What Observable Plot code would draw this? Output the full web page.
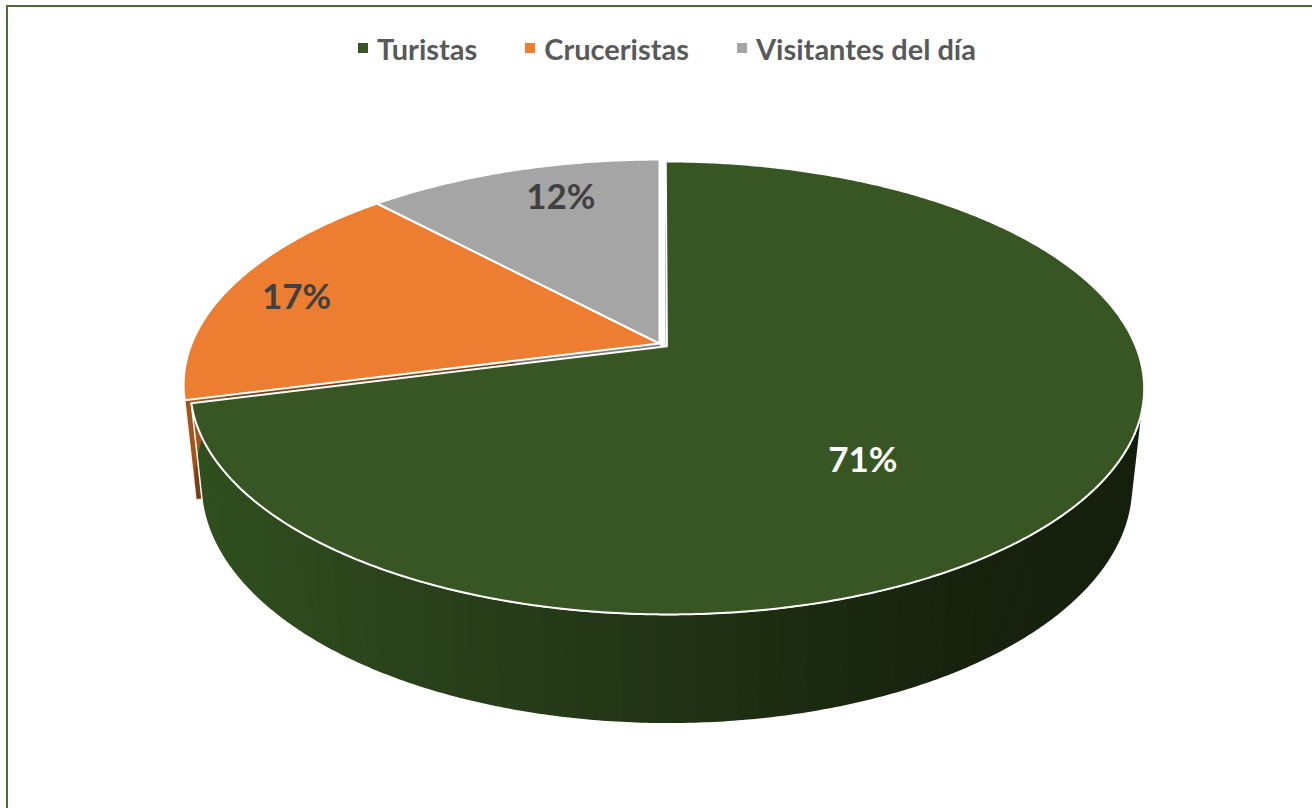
<!DOCTYPE html>
<html>
<head>
<meta charset="utf-8">
<script src="https://cdn.jsdelivr.net/npm/d3@7"></script>
<script src="https://cdn.jsdelivr.net/npm/@observablehq/plot@0.6"></script>
<style>
  html, body { margin: 0; padding: 0; background: #fff; }
  #page { position: relative; width: 1312px; height: 808px; overflow: hidden; font-family: Lato, "Open Sans", sans-serif; }
  #frame { position: absolute; left: 6px; top: 5px; width: 1320px; height: 820px; border-left: 2px solid #4b6c36; border-top: 2px solid #4b6c36; box-sizing: border-box; pointer-events: none; z-index: 5; }
  #legend { height: 88px; display: flex; justify-content: center; align-items: flex-start; padding-left: 22px; box-sizing: border-box; }
  #legend .item { display: flex; align-items: center; margin: 0 24px; margin-top: 29px; height: 38px; font-size: 29px; font-weight: bold; color: #595959; }
  #legend .sw { width: 10px; height: 10px; margin-right: 9px; }
  #chart svg { display: block; }
</style>
</head>
<body>
<div id="page">
  <div id="frame"></div>
  <div id="legend"></div>
  <div id="chart"></div>
</div>
<script>
// ---- data ----
const categories = ["Turistas", "Cruceristas", "Visitantes del día"];
const shares = [71, 17, 12];
const pctLabels = ["71%", "17%", "12%"];

// ---- styles ----
const FILL = ["#375623", "#ED7D31", "#A5A5A5"];
const CUT = ["#2a421a", "#7b3f16", "#7c7c7c"];
const LABEL_COLOR = ["#ffffff", "#404040", "#404040"];
const wallRamp = [
  d3.scaleLinear().domain([190, 350, 500, 800, 1000, 1150]).range(["#30501f", "#2c451c", "#273d19", "#1c2b11", "#17210d", "#15200c"]).clamp(true),
  d3.scaleLinear().domain([180, 700]).range(["#a4541d", "#6d360f"]).clamp(true),
  d3.scaleLinear().domain([180, 700]).range(["#8a8a8a", "#5a5a5a"]).clamp(true)
];

// ---- camera / layout ----
const deg = Math.PI / 180;
const PHI = 27.75 * deg, SN = Math.sin(PHI), CS = Math.cos(PHI);
const DIST = 4.81, THICK = 0.236, FOCAL = 2250, CX = 659, CY = 343, TOPH = 88;
const EXPLODE = [0.02, 0, 0];
const LABEL_POS = [{a: 141.5 * deg, r: 0.61}, {a: 285 * deg, r: 0.835}, {a: 342.5 * deg, r: 0.8}];

function project(X, Y, Z) {
  const zc = DIST + Z * CS - Y * SN;
  return [X / zc, (Y * CS + Z * SN) / zc];
}

const total = d3.sum(shares);
let acc = 0;
const slices = categories.map((c, i) => {
  const a0 = acc / total * 2 * Math.PI; acc += shares[i];
  const a1 = acc / total * 2 * Math.PI;
  const mid = (a0 + a1) / 2;
  return {c, i, a0, a1, mid, ox: EXPLODE[i] * Math.sin(mid), oz: EXPLODE[i] * Math.cos(mid)};
});
function pt(s, r, a, Y) { return project(s.ox + r * Math.sin(a), Y, s.oz + r * Math.cos(a)); }
const px = u => CX + FOCAL * u;

let pid = 0;
const cutPolys = [], wallPolys = [], outlinePolys = [], topPolys = [];
function add(arr, pts, fill, stroke) {
  const id = pid++;
  pts.forEach(([u, v]) => arr.push({id, u, v, fill, stroke}));
}
function arc(s, a0, a1, Y, step) {
  const n = Math.max(1, Math.ceil((a1 - a0) / step));
  return d3.range(n + 1).map(k => pt(s, 1, a0 + (a1 - a0) * k / n, Y));
}

// visible wall range (front side)
const VIS0 = 104 * deg, VIS1 = 256.5 * deg;

for (const s of slices) {
  // cut faces
  for (const a of [s.a0, s.a1]) {
    add(cutPolys, [pt(s, 0, a, 0), pt(s, 1, a, 0), pt(s, 1, a, -THICK), pt(s, 0, a, -THICK)], CUT[s.i], CUT[s.i]);
  }
  // wall strips (overlapping slightly to avoid seams)
  const n = Math.ceil((s.a1 - s.a0) / deg);
  for (let k = 0; k < n; k++) {
    const t0 = s.a0 + (s.a1 - s.a0) * k / n;
    const t1 = Math.min(s.a1, s.a0 + (s.a1 - s.a0) * (k + 1) / n + 0.8 * deg);
    const tm = s.a0 + (s.a1 - s.a0) * (k + 0.5) / n;
    const q = [...arc(s, t0, t1, 0, 0.5 * deg), ...arc(s, t0, t1, -THICK, 0.5 * deg).reverse()];
    const col = wallRamp[s.i](px(pt(s, 1, tm, 0)[0]));
    add(wallPolys, q, col, "none");
  }
  // wall outline (visible part)
  const v0 = Math.max(s.a0, VIS0), v1 = Math.min(s.a1, VIS1);
  if (v1 > v0) {
    const top = arc(s, v0, v1, 0, 0.5 * deg), bot = arc(s, v0, v1, -THICK, 0.5 * deg).reverse();
    add(outlinePolys, [...top, ...bot, top[0]], "none", "#ffffff");
  }
  // top face
  const topArc = arc(s, s.a0, s.a1, 0, 0.5 * deg);
  const c0 = pt(s, 0, 0, 0);
  add(topPolys, [c0, ...topArc, c0], FILL[s.i], "#ffffff");
}

const labelData = slices.map(s => {
  const lp = LABEL_POS[s.i];
  const [u, v] = pt(s, lp.r, lp.a ?? s.mid, 0);
  return {u, v, text: pctLabels[s.i], color: LABEL_COLOR[s.i]};
});

// ---- legend ----
const legend = d3.select("#legend");
categories.forEach((c, i) => {
  const it = legend.append("div").attr("class", "item");
  it.append("div").attr("class", "sw").style("background", FILL[i]);
  it.append("span").text(c);
});

// ---- plot ----
const W = 1312, Hh = 808 - TOPH;
const ext = 0.3;
const plot = Plot.plot({
  width: W, height: Hh,
  margin: 0,
  x: {type: "linear", domain: [-ext, ext], range: [CX - ext * FOCAL, CX + ext * FOCAL], axis: null},
  y: {type: "linear", domain: [-ext, ext], range: [CY - TOPH + ext * FOCAL, CY - TOPH - ext * FOCAL], axis: null},
  color: {type: "identity"},
  style: {background: "transparent", overflow: "visible"},
  marks: [
    Plot.line(cutPolys, {x: "u", y: "v", z: "id", fill: "fill", stroke: "stroke", strokeWidth: 0.8}),
    Plot.line(wallPolys, {x: "u", y: "v", z: "id", fill: "fill", stroke: "none"}),
    Plot.line(outlinePolys, {x: "u", y: "v", z: "id", fill: "none", stroke: "stroke", strokeWidth: 1.5}),
    Plot.line(topPolys, {x: "u", y: "v", z: "id", fill: "fill", stroke: "stroke", strokeWidth: 2, strokeLinejoin: "round"}),
    Plot.text(labelData, {x: "u", y: "v", text: "text", fill: "color", fontSize: 35, fontWeight: "bold", fontFamily: "Lato, 'Open Sans', sans-serif"})
  ]
});
document.getElementById("chart").appendChild(plot);
</script>
</body>
</html>
